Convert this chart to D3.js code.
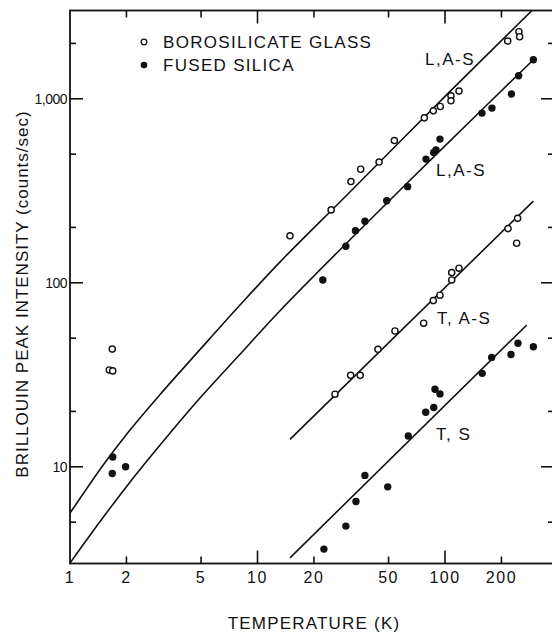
<!DOCTYPE html>
<html>
<head>
<meta charset="utf-8">
<style>
  body { margin: 0; background: #fff; }
  svg text { font-family: "Liberation Sans", Arial, sans-serif; fill: #111; }
</style>
</head>
<body>
<div id="chart"></div>
<script src="https://d3js.org/d3.v7.min.js"></script>
<script>
// data: [temperature K, intensity counts/sec]
const glassLPoints = [[14.9,180],[24.7,249],[31.5,355],[35.5,414],[44.5,453],[53.7,593],[77.6,788],[86.6,860],
  [94.4,908],[107.6,1038],[107.6,975],[118.8,1101],[216,2060],[248,2314],[250,2174]];
const glassTPoints = [[25.9,24.8],[31.4,31.4],[35.3,31.4],[43.9,43.5],[54.1,54.7],[76.9,60.3],[86.6,80.0],
  [94.0,85.6],[108.6,103.6],[108.6,113.6],[118.8,120],[216.8,197],[244,224],[241,164]];
const glassLowT = [[1.68,43.6],[1.62,33.6],[1.69,33.2]];
const silicaLPoints = [[22.3,103.6],[29.6,158],[33.3,192],[37.4,216],[48.9,279],[63.2,333],[79.2,470],[87.1,511],
  [89.5,528],[94.0,604],[157.5,836],[178,890],[226,1061],[247,1334],[296,1630]];
const silicaTPoints = [[22.6,3.57],[29.6,4.76],[33.5,6.48],[37.4,8.98],[49.5,7.78],[63.7,14.7],[78.9,19.8],
  [87.1,21.0],[88.4,26.4],[94.0,24.9],[158,32.2],[177.4,39.3],[225,40.8],[245,46.9],[296,44.9]];
const silicaLowT = [[1.69,11.3],[1.68,9.2],[1.98,10.0]];

// theory curves and fitted lines
const glassLCurve = [[1,5.6],[1.5,10.2],[2,15.0],[3,24.5],[5,44],[8,75],[13.2,130],[30,300],[100,1030],[294,3050]];
const silicaLCurve = [[1,3.0],[1.5,5.3],[2,7.8],[3,13.0],[5,24],[8,40.5],[13.18,70.5],[30,165],[100,555],[296,1630]];
const glassTLine = [[14.9,14.1],[296,278]];
const silicaTLine = [[14.9,3.2],[273,59]];

const xMajor = [1, 10, 100];
const xMinor = [2, 5, 20, 50, 200];
const xLabelValues = [1, 2, 5, 10, 20, 50, 100, 200];
const yMajor = [10, 100, 1000];
const yMinor = [5, 20, 50, 200, 500, 2000];
const yLabels = ["10", "100", "1,000"];

const curveLabels = [
  { text: "L,A-S", x: 425, y: 65 },
  { text: "L,A-S", x: 436, y: 176 },
  { text: "T, A-S", x: 437, y: 324 },
  { text: "T, S", x: 436, y: 440 }
];

const W = 552, H = 633;
const frame = { left: 70, right: 554, top: 10.5, bottom: 563.5 };

const svg = d3.select('#chart').append('svg')
  .attr('width', W)
  .attr('height', H);

const x = d3.scaleLog().domain([1, 1000]).range([70, 632.5]);
const y = d3.scaleLog().domain([3, 3000]).range([563, 11]);

svg.append('clipPath').attr('id', 'plot')
  .append('rect')
  .attr('x', frame.left).attr('y', frame.top)
  .attr('width', frame.right - frame.left).attr('height', frame.bottom - frame.top);

// frame
svg.append('rect')
  .attr('x', frame.left).attr('y', frame.top)
  .attr('width', frame.right - frame.left).attr('height', frame.bottom - frame.top)
  .attr('fill', 'none')
  .attr('stroke', '#111')
  .attr('stroke-width', 1.8);

// ticks, all pointing inwards
function xTicks(vals, len) {
  vals.forEach(v => {
    svg.append('line').attr('x1', x(v)).attr('x2', x(v)).attr('y1', frame.bottom).attr('y2', frame.bottom - len)
      .attr('stroke', '#111').attr('stroke-width', 1.6);
    svg.append('line').attr('x1', x(v)).attr('x2', x(v)).attr('y1', frame.top).attr('y2', frame.top + len)
      .attr('stroke', '#111').attr('stroke-width', 1.6);
  });
}
function yTicks(vals, len) {
  vals.forEach(v => {
    svg.append('line').attr('x1', frame.left).attr('x2', frame.left + len).attr('y1', y(v)).attr('y2', y(v))
      .attr('stroke', '#111').attr('stroke-width', 1.6);
    svg.append('line').attr('x1', frame.right).attr('x2', frame.right - len).attr('y1', y(v)).attr('y2', y(v))
      .attr('stroke', '#111').attr('stroke-width', 1.6);
  });
}
xTicks(xMajor.slice(1), 13);
xTicks(xMinor, 7);
yTicks(yMajor, 13);
yTicks(yMinor, 6);

// tick labels
svg.selectAll('.xlab')
  .data(xLabelValues)
  .enter()
  .append('text')
  .attr('x', d => x(d))
  .attr('y', 583)
  .attr('text-anchor', 'middle')
  .style('font-size', '16px')
  .style('letter-spacing', '1.5px')
  .text(d => d);

svg.selectAll('.ylab')
  .data(yMajor)
  .enter()
  .append('text')
  .attr('x', 67)
  .attr('y', d => y(d) + 5)
  .attr('text-anchor', 'end')
  .style('font-size', '14px')
  .style('letter-spacing', '-0.5px')
  .text((d, i) => yLabels[i]);

// axis titles
svg.append('text')
  .attr('x', 314)
  .attr('y', 629)
  .attr('text-anchor', 'middle')
  .style('font-size', '17px')
  .style('letter-spacing', '1.2px')
  .text('TEMPERATURE (K)');

svg.append('text')
  .attr('transform', 'translate(27.5,294) rotate(-90)')
  .attr('text-anchor', 'middle')
  .style('font-size', '17px')
  .style('letter-spacing', '1px')
  .text('BRILLOUIN PEAK INTENSITY (counts/sec)');

// lines
const curve = d3.line()
  .x(d => x(d[0]))
  .y(d => y(d[1]))
  .curve(d3.curveCatmullRom.alpha(0.5));

const lines = svg.append('g').attr('clip-path', 'url(#plot)');
[glassLCurve, silicaLCurve, glassTLine, silicaTLine].forEach(data => {
  lines.append('path')
    .datum(data)
    .attr('fill', 'none')
    .attr('stroke', '#111')
    .attr('stroke-width', 1.6)
    .attr('d', curve);
});

// points
const openPts = glassLPoints.concat(glassTPoints, glassLowT);
const filledPts = silicaLPoints.concat(silicaTPoints, silicaLowT);

svg.selectAll('.open')
  .data(openPts)
  .enter()
  .append('circle')
  .attr('cx', d => x(d[0]))
  .attr('cy', d => y(d[1]))
  .attr('r', 3.1)
  .attr('fill', '#fff')
  .attr('stroke', '#111')
  .attr('stroke-width', 1.4);

svg.selectAll('.filled')
  .data(filledPts)
  .enter()
  .append('circle')
  .attr('cx', d => x(d[0]))
  .attr('cy', d => y(d[1]))
  .attr('r', 3.7)
  .attr('fill', '#111');

// curve labels
svg.selectAll('.clab')
  .data(curveLabels)
  .enter()
  .append('text')
  .attr('x', d => d.x)
  .attr('y', d => d.y)
  .style('font-size', '17px')
  .style('letter-spacing', '1.5px')
  .text(d => d.text);

// legend
svg.append('circle').attr('cx', 144).attr('cy', 42).attr('r', 2.8)
  .attr('fill', '#fff').attr('stroke', '#111').attr('stroke-width', 1.3);
svg.append('circle').attr('cx', 144).attr('cy', 65).attr('r', 3.3).attr('fill', '#111');
svg.append('text').attr('x', 163).attr('y', 47.5)
  .style('font-size', '17px').style('letter-spacing', '1.3px')
  .text('BOROSILICATE GLASS');
svg.append('text').attr('x', 163).attr('y', 71)
  .style('font-size', '17px').style('letter-spacing', '1.3px')
  .text('FUSED SILICA');
</script>
</body>
</html>
